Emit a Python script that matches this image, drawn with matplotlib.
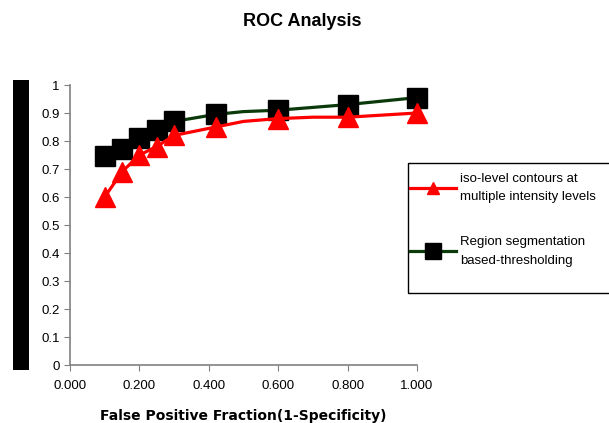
import matplotlib
matplotlib.use("Agg")
import matplotlib.pyplot as plt
from matplotlib.patches import Rectangle
from matplotlib.lines import Line2D

plt.rcParams['font.family'] = ['Liberation Sans', 'DejaVu Sans']

# Data
fpf_iso = [0.10, 0.15, 0.20, 0.25, 0.30, 0.42, 0.50, 0.60, 0.70, 0.80, 1.00]
tpf_iso = [0.60, 0.69, 0.75, 0.78, 0.82, 0.85, 0.87, 0.88, 0.885, 0.885, 0.90]
fpf_reg = [0.10, 0.15, 0.20, 0.25, 0.30, 0.42, 0.50, 0.60, 0.70, 0.80, 1.00]
tpf_reg = [0.745, 0.77, 0.81, 0.84, 0.87, 0.895, 0.905, 0.91, 0.92, 0.93, 0.955]
marked = [0, 1, 2, 3, 4, 5, 7, 9, 10]
label_iso = "iso-level contours at\nmultiple intensity levels"
label_reg = "Region segmentation\nbased-thresholding"
xticks = [0.0, 0.2, 0.4, 0.6, 0.8, 1.0]
yticks = [0, 0.1, 0.2, 0.3, 0.4, 0.5, 0.6, 0.7, 0.8, 0.9, 1.0]
ytick_labels = ["0", "0.1", "0.2", "0.3", "0.4", "0.5", "0.6", "0.7", "0.8", "0.9", "1"]

RED = '#ff0000'
GREEN = '#0a3a0a'

W, H = 609, 423
fig = plt.figure(figsize=(W / 100, H / 100), dpi=100)
ax = fig.add_axes([70 / W, 1 - 365 / H, 347 / W, 280 / H])

ax.plot(fpf_iso, tpf_iso, color=RED, lw=2.3, marker='^', markersize=14,
        markevery=marked, markerfacecolor=RED, markeredgecolor=RED,
        zorder=3, clip_on=False)
ax.plot(fpf_reg, tpf_reg, color=GREEN, lw=2.3, marker='s', markersize=14,
        markevery=marked, markerfacecolor='#000000', markeredgecolor='#000000',
        zorder=2, clip_on=False)

ax.set_xlim(0, 1)
ax.set_ylim(0, 1)
ax.set_xticks(xticks)
ax.set_xticklabels([f"{v:.3f}" for v in xticks])
ax.set_yticks(yticks)
ax.set_yticklabels(ytick_labels)
for s in ['top', 'right']:
    ax.spines[s].set_visible(False)
for s in ['left', 'bottom']:
    ax.spines[s].set_color('#808080')
    ax.spines[s].set_linewidth(1.2)
ax.tick_params(axis='both', direction='out', length=4, color='#808080', labelsize=9.5,
               labelcolor='black')
ax.tick_params(axis='x', pad=7)
ax.patch.set_alpha(0)

ax.set_xlabel("False Positive Fraction(1-Specificity)", fontsize=10, fontweight='bold',
              family='DejaVu Sans', labelpad=12)

fig.text(302 / W, 1 - 21 / H, "ROC Analysis", ha='center', va='center',
         fontsize=13, fontweight='bold')

# y-axis label rendered as a black bar
fig.patches.append(Rectangle((13 / W, 1 - 370 / H), 16 / W, 290 / H,
                             transform=fig.transFigure, facecolor='black',
                             edgecolor='none', zorder=1))
fig.text(21 / W, 1 - 225 / H, "True Positive Fraction (Sensitivity)", rotation=90,
         ha='center', va='center', fontsize=8, color='black', zorder=2)

# legend frame
fig.patches.append(Rectangle((408 / W, 1 - 293 / H), 220 / W, 130 / H,
                             transform=fig.transFigure, facecolor='white',
                             edgecolor='black', linewidth=1.0, zorder=4))

h1 = Line2D([], [], color=RED, lw=2.3, marker='^', markersize=8,
            markerfacecolor=RED, markeredgecolor=RED)
h2 = Line2D([], [], color=GREEN, lw=2.3, marker='s', markersize=11,
            markerfacecolor='#000000', markeredgecolor='#000000')
leg = fig.legend(handles=[h1, h2], labels=[label_iso, label_reg], loc='upper left',
                 bbox_to_anchor=(410 / W, 1 - 173 / H), frameon=False,
                 fontsize=9.5, handlelength=3.5, handletextpad=0.3,
                 labelspacing=2.5, borderpad=0, borderaxespad=0, numpoints=1)
leg.set_zorder(5)
for t in leg.get_texts():
    t.set_linespacing(1.7)

fig.savefig("out.png", dpi=100)
